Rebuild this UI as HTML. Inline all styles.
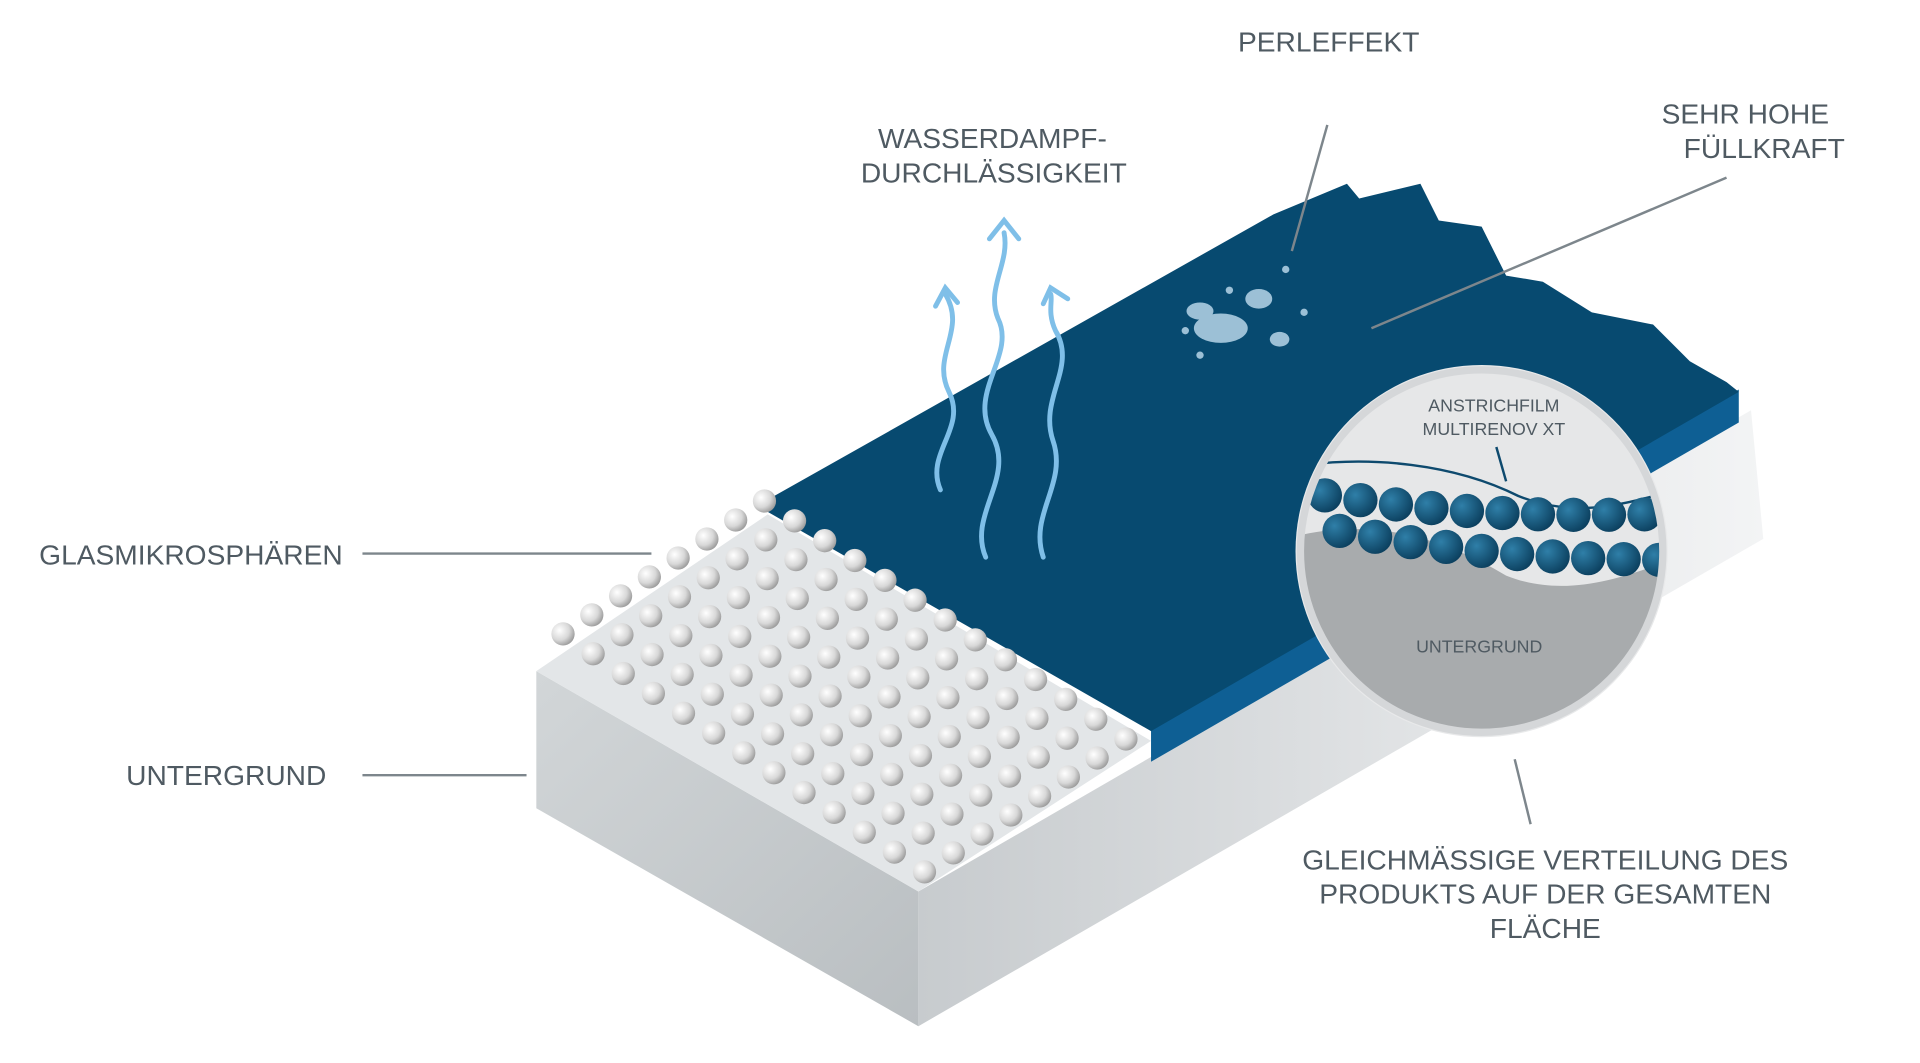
<!DOCTYPE html>
<html><head><meta charset="utf-8"><style>
html,body{margin:0;padding:0;background:#fff;}
svg{display:block}
text{font-family:"Liberation Sans",sans-serif;fill:#4f5a62;}
</style></head><body>
<svg id="s" width="1920" height="1063" viewBox="0 0 1568 868" xmlns="http://www.w3.org/2000/svg">
<defs>
<radialGradient id="sp" cx="0.35" cy="0.35" r="0.7"><stop offset="0" stop-color="#ffffff"/><stop offset="0.6" stop-color="#d8d8d8"/><stop offset="1" stop-color="#9a9a9a"/></radialGradient>
<radialGradient id="bs" cx="0.35" cy="0.35" r="0.7"><stop offset="0" stop-color="#2f7fa8"/><stop offset="1" stop-color="#0b3f5e"/></radialGradient>
<linearGradient id="gl" x1="0" y1="0" x2="1" y2="1"><stop offset="0" stop-color="#d2d6d8"/><stop offset="1" stop-color="#b9bec1"/></linearGradient>
<linearGradient id="gr" x1="0" y1="0" x2="1" y2="0"><stop offset="0" stop-color="#c7cbce"/><stop offset="1" stop-color="#f3f4f5"/></linearGradient>
<clipPath id="cc"><circle cx="1210" cy="450" r="146"/></clipPath>
</defs>
<polygon points="438,548 750,728 750,838 438,660" fill="url(#gl)"/>
<polygon points="750,728 1430,335 1440,440 750,838" fill="url(#gr)"/>
<polygon points="438,548 627,420 940,605 750,728" fill="#e3e6e8"/>
<polygon points="940,595 1420,318 1420,345 940,622" fill="#0e5f94"/>
<polygon points="627,408 1040,175 1100,150 1110,162 1160,150 1175,180 1210,185 1230,225 1260,230 1300,255 1350,265 1380,295 1410,312 1420,320 940,597 627,418" fill="#074a70"/>
<g id="g"></g>
<circle cx="1210" cy="450" r="152" fill="#e8e9ea"/>
<g clip-path="url(#cc)">
<rect x="1050" y="290" width="320" height="320" fill="#e6e7e8"/>
<path d="M1050,440 C1120,420 1180,440 1230,470 C1280,490 1330,470 1370,455 L1370,620 L1050,620Z" fill="#a8abad"/>
<path d="M1050,382 C1120,370 1190,380 1240,405 C1290,425 1330,410 1370,400" fill="none" stroke="#0e4a6e" stroke-width="2"/>
<g id="bg"></g>
</g>
<circle cx="1210" cy="450" r="148" fill="none" stroke="#d5d7d9" stroke-width="6"/>
<g fill="none" stroke="#7fbfe8" stroke-width="4" stroke-linecap="round">
<path d="M768,400 C755,370 790,350 775,320 C760,290 790,270 772,240"/>
<path d="M764,250 L772,235 L782,247"/>
<path d="M805,455 C790,420 830,390 810,355 C790,320 830,290 815,260 C805,235 825,215 820,190"/>
<path d="M808,195 L820,180 L832,195"/>
<path d="M852,455 C840,420 872,395 860,360 C848,325 880,300 862,270 C855,255 860,245 858,240"/>
<path d="M852,248 L858,235 L872,244"/>
</g>
<g fill="#9cc0d6"><ellipse cx="997" cy="268" rx="22" ry="12"/><ellipse cx="980" cy="254" rx="11" ry="7"/><ellipse cx="1028" cy="244" rx="11" ry="8"/><ellipse cx="1045" cy="277" rx="8" ry="6"/><circle cx="1050" cy="220" r="3"/><circle cx="1004" cy="237" r="3"/><circle cx="968" cy="270" r="3"/><circle cx="980" cy="290" r="3"/><circle cx="1065" cy="255" r="3"/></g>
<g stroke="#7d868c" stroke-width="2"><line x1="1084" y1="102" x2="1055" y2="205"/><line x1="1410" y1="145" x2="1120" y2="268"/><line x1="296" y1="452" x2="532" y2="452"/><line x1="296" y1="633" x2="430" y2="633"/><line x1="1237" y1="620" x2="1250" y2="673"/><line x1="1222" y1="365" x2="1230" y2="393" stroke="#0e4a6e"/></g>
<g font-size="23">
<text x="1011" y="42">PERLEFFEKT</text>
<text x="717" y="121">WASSERDAMPF-</text>
<text x="703" y="149">DURCHLÄSSIGKEIT</text>
<text x="1357" y="101">SEHR HOHE</text>
<text x="1375" y="129">FÜLLKRAFT</text>
<text x="32" y="461">GLASMIKROSPHÄREN</text>
<text x="103" y="641">UNTERGRUND</text>
<text x="1262" y="710" text-anchor="middle">GLEICHMÄSSIGE VERTEILUNG DES</text>
<text x="1262" y="738" text-anchor="middle">PRODUKTS AUF DER GESAMTEN</text>
<text x="1262" y="766" text-anchor="middle">FLÄCHE</text>
</g>
<g font-size="14.5"><text x="1220" y="336" text-anchor="middle">ANSTRICHFILM</text><text x="1220" y="355" text-anchor="middle">MULTIRENOV XT</text><text x="1208" y="533" text-anchor="middle">UNTERGRUND</text></g>
</svg>
<script>
var g=document.getElementById("g"),h="";
for(var j=7;j>=0;j--)for(var i=12;i>=0;i--){var x=755-24.6*i+23.5*j,y=712-16.2*i-15.5*j;h+='<circle cx="'+x+'" cy="'+y+'" r="9.5" fill="url(#sp)"/>';}
g.innerHTML=h;
var b="";for(var k=0;k<11;k++){var x=1082+k*29,t=(x-1050)/320;var y=400+Math.sin(t*3.2)*8+t*20;b+='<circle cx="'+x+'" cy="'+y+'" r="14" fill="url(#bs)"/>';b+='<circle cx="'+(x+12)+'" cy="'+(y+28+t*10)+'" r="14" fill="url(#bs)"/>';}
document.getElementById("bg").innerHTML=b;
</script>
</body></html>
